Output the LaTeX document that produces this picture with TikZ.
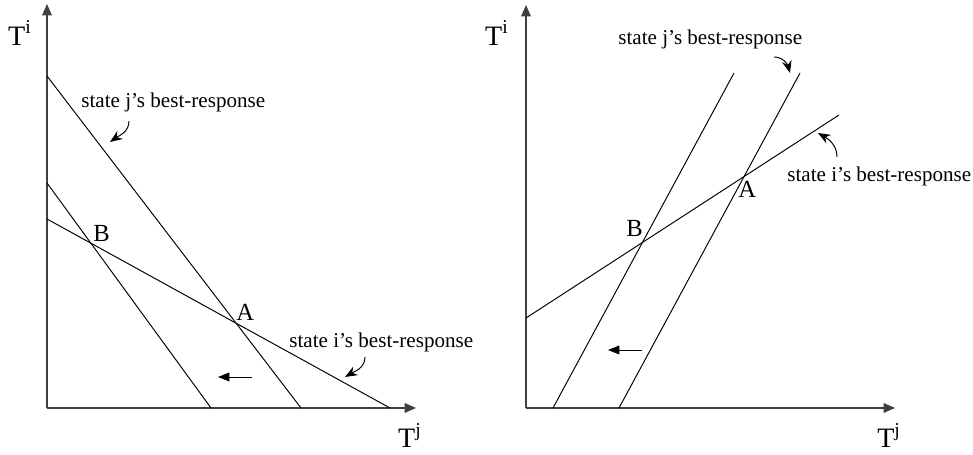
\documentclass[tikz,border=0pt]{standalone}
\usepackage{fontspec}
\setmainfont{Liberation Serif}
\usetikzlibrary{positioning,arrows.meta,calc}

\begin{document}
\begin{tikzpicture}[x=0.02cm, y=0.02cm, font=\fontsize{12}{14}\selectfont]
\tikzset{
  axis/.style={-{Triangle[length=6.5pt, width=5.5pt]}, line width=0.8pt, black!75},
  resp/.style={line width=0.55pt},
  shiftarr/.style={-{Triangle[length=6.5pt, width=5pt]}, line width=0.55pt},
  hint/.style={-{Stealth[length=7pt, width=5.5pt]}, line width=0.55pt},
  axlabel/.style={font=\fontsize{16}{18}\selectfont, inner sep=0pt},
  ptlabel/.style={font=\fontsize{14}{16}\selectfont, inner sep=0pt, anchor=base west},
  brtext/.style={inner sep=0pt, anchor=base west}
}
\useasboundingbox (0,0) rectangle (973,455);

% left panel
\coordinate (lO) at (47,47);
\coordinate (lYtop) at (47,451);
\coordinate (lXend) at (416,47);
\draw[axis] (lO) -- (lYtop);
\draw[axis] (lO) -- (lXend);
\node[axlabel] (lTi) at (20,422) {T\textsuperscript{i}};
\node[axlabel] (lTj) at (410,20) {T\textsuperscript{j}};

\coordinate (lJa) at (47,379);
\coordinate (lJb) at (301,47);
\coordinate (lKa) at (47,272);
\coordinate (lKb) at (211,47);
\coordinate (lIa) at (47,236);
\coordinate (lIb) at (390,47);
\draw[resp] (lJa) -- (lJb);
\draw[resp] (lKa) -- (lKb);
\draw[resp] (lIa) -- (lIb);

\node[ptlabel] (lB) at (93,213) {B};
\node[ptlabel] (lA) at (236,134) {A};

\coordinate (lSa) at (252,78);
\coordinate (lSb) at (218,78);
\draw[shiftarr] (lSa) -- (lSb);

\node[brtext] (lJtxt) at (81,347) {state j's best-response};
\coordinate (lJs) at (129,334);
\coordinate (lJe) at (110,313);
\draw[hint] (lJs) to[out=-90, in=35] (lJe);

\node[brtext] (lItxt) at (289,107) {state i's best-response};
\coordinate (lIs) at (365,98);
\coordinate (lIe) at (345,78);
\draw[hint] (lIs) to[out=-90, in=30] (lIe);

% right panel
\coordinate (rO) at (526,47);
\coordinate (rYtop) at (526,450);
\coordinate (rXend) at (895,47);
\draw[axis] (rO) -- (rYtop);
\draw[axis] (rO) -- (rXend);
\node[axlabel] (rTi) at (497,422) {T\textsuperscript{i}};
\node[axlabel] (rTj) at (889,20) {T\textsuperscript{j}};

\coordinate (rIa) at (526,137);
\coordinate (rIb) at (839,340);
\coordinate (rKa) at (553,47);
\coordinate (rKb) at (734,382);
\coordinate (rJa) at (619,47);
\coordinate (rJb) at (800,382);
\draw[resp] (rIa) -- (rIb);
\draw[resp] (rKa) -- (rKb);
\draw[resp] (rJa) -- (rJb);

\node[ptlabel] (rB) at (626,218) {B};
\node[ptlabel] (rA) at (738,257) {A};

\coordinate (rSa) at (642,105);
\coordinate (rSb) at (608,105);
\draw[shiftarr] (rSa) -- (rSb);

\node[brtext] (rJtxt) at (618,410) {state j's best-response};
\coordinate (rJs) at (774,398);
\coordinate (rJe) at (790,382);
\draw[hint] (rJs) to[out=0, in=105] (rJe);

\node[brtext] (rItxt) at (787,273) {state i's best-response};
\coordinate (rIs) at (837,298);
\coordinate (rIe) at (818,322);
\draw[hint] (rIs) to[out=90, in=-30] (rIe);
\end{tikzpicture}
\end{document}
